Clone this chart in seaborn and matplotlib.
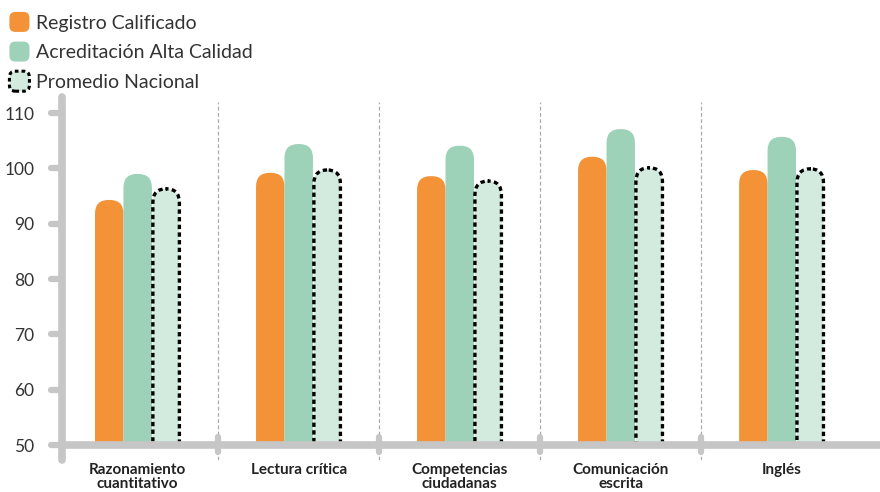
import numpy as np
import pandas as pd
import matplotlib.pyplot as plt
import seaborn as sns
from matplotlib.patches import FancyBboxPatch, Rectangle
from matplotlib.legend_handler import HandlerPatch
import matplotlib.transforms as mtransforms

categories = ["Razonamiento\ncuantitativo", "Lectura crítica", "Competencias\nciudadanas",
              "Comunicación\nescrita", "Inglés"]
series = ["Registro Calificado", "Acreditación Alta Calidad", "Promedio Nacional"]
registro = [94.3, 99.2, 98.6, 102.1, 99.7]
acreditacion = [99.0, 104.4, 104.1, 107.1, 105.7]
promedio = [96.5, 99.9, 97.9, 100.3, 100.1]
y_ticks = [50, 60, 70, 80, 90, 100, 110]

ORANGE = "#F39237"
GREEN = "#9DD1B8"
LIGHT = "#D3EBDF"
GRAY = "#C6C6C6"
BASE = 50
XMIN, XMAX = -0.47, 4.61
YMIN, YMAX = 47.3, 112.9

df = pd.DataFrame({
    "categoria": categories * 3,
    "serie": np.repeat(series, len(categories)),
    "valor": registro + acreditacion + promedio,
})

sns.set_style("white")
plt.rcParams["font.family"] = ["Lato", "DejaVu Sans"]

fig = plt.figure(figsize=(8.8, 4.92), dpi=100)
ax = fig.add_axes([62 / 880, 1 - 460 / 492, 1 - 62 / 880, (460 - 97) / 492])

sns.barplot(data=df, x="categoria", y="valor", hue="serie", hue_order=series,
            palette=[ORANGE, GREEN, LIGHT], width=0.53, legend=False, ax=ax)

ax.set_xlim(XMIN, XMAX)
ax.set_ylim(YMIN, YMAX)
fig.canvas.draw()

# pixels per data unit, used so the rounded tops look round
bb = ax.get_window_extent()
px_x = bb.width / (XMAX - XMIN)
px_y = bb.height / (YMAX - YMIN)
aspect = px_x / px_y

clip = Rectangle((XMIN, BASE), 6, 70, transform=ax.transData)

styles = [
    dict(fc=ORANGE, ec="none", lw=0),
    dict(fc=GREEN, ec="none", lw=0),
    dict(fc=LIGHT, ec="black", lw=2.4, ls=(0, (1.3, 1.0))),
]
for cont, st in zip(ax.containers, styles):
    for p in cont.patches:
        x, w, h = p.get_x(), p.get_width(), p.get_height()
        p.remove()
        inset = 0.006 if st["ec"] != "none" else 0
        box = FancyBboxPatch((x + inset, BASE - 5), w - 2 * inset, h - BASE + 5 - inset * aspect,
                             boxstyle="round,pad=0,rounding_size=0.085",
                             mutation_aspect=aspect, zorder=2, **st)
        ax.add_patch(box)
        box.set_clip_path(clip)

# separators between categories
for k in range(len(categories) - 1):
    ax.axvline(k + 0.5, ymin=0, ymax=0.985, color="#AAAAAA", lw=0.9, ls=(0, (3, 2)), zorder=1)
    ax.plot([k + 0.5, k + 0.5], [48.7, 51.4], color=GRAY, lw=4.5,
            solid_capstyle="round", zorder=3)

# axis lines
ax.plot([XMIN, XMAX], [BASE, BASE], color=GRAY, lw=5.5, solid_capstyle="round",
        zorder=4, clip_on=False)
for s in ["top", "right", "bottom"]:
    ax.spines[s].set_visible(False)
ax.spines["left"].set_color(GRAY)
ax.spines["left"].set_linewidth(5.5)
ax.spines["left"].set_capstyle("round")

# y ticks as short rounded dashes
trans = mtransforms.blended_transform_factory(ax.transAxes, ax.transData)
for t in y_ticks:
    ax.plot([-0.014, 0], [t, t], transform=trans, color=GRAY, lw=4.5,
            solid_capstyle="round", clip_on=False, zorder=4)
ax.set_yticks(y_ticks)
ax.set_yticklabels([str(t) for t in y_ticks], fontsize=12.5, color="#333333")
ax.tick_params(axis="y", length=0, pad=20)

ax.set_xticks(range(len(categories)))
ax.set_xticklabels(categories, fontsize=11, fontweight="bold", color="#222222",
                   linespacing=1.0)
ax.tick_params(axis="x", length=0, pad=2)
ax.set_xlabel("")
ax.set_ylabel("")


class RoundHandler(HandlerPatch):
    def create_artists(self, legend, orig_handle, xdescent, ydescent, width, height,
                       fontsize, trans):
        side = height * 1.15
        p = FancyBboxPatch((-xdescent + (width - side) / 2, -ydescent - (side - height) / 2),
                           side, side, boxstyle="round,pad=0,rounding_size=%f" % (side * 0.3),
                           fc=orig_handle.get_facecolor(), ec=orig_handle.get_edgecolor(),
                           lw=orig_handle.get_linewidth(), ls=orig_handle.get_linestyle(),
                           transform=trans)
        return [p]


handles = [Rectangle((0, 0), 1, 1, fc=ORANGE, ec="none", lw=0),
           Rectangle((0, 0), 1, 1, fc=GREEN, ec="none", lw=0),
           Rectangle((0, 0), 1, 1, fc=LIGHT, ec="black", lw=2.2, ls=(0, (1.2, 1.0)))]
leg = fig.legend(handles, series, loc="upper left", bbox_to_anchor=(-0.004, 1.0),
                 frameon=False, fontsize=14, handlelength=1.0, handleheight=1.0,
                 handletextpad=0.35, labelspacing=0.58, borderaxespad=0.28,
                 handler_map={Rectangle: RoundHandler()})
for txt in leg.get_texts():
    txt.set_color("#333333")

fig.savefig("out.png", dpi=100)
